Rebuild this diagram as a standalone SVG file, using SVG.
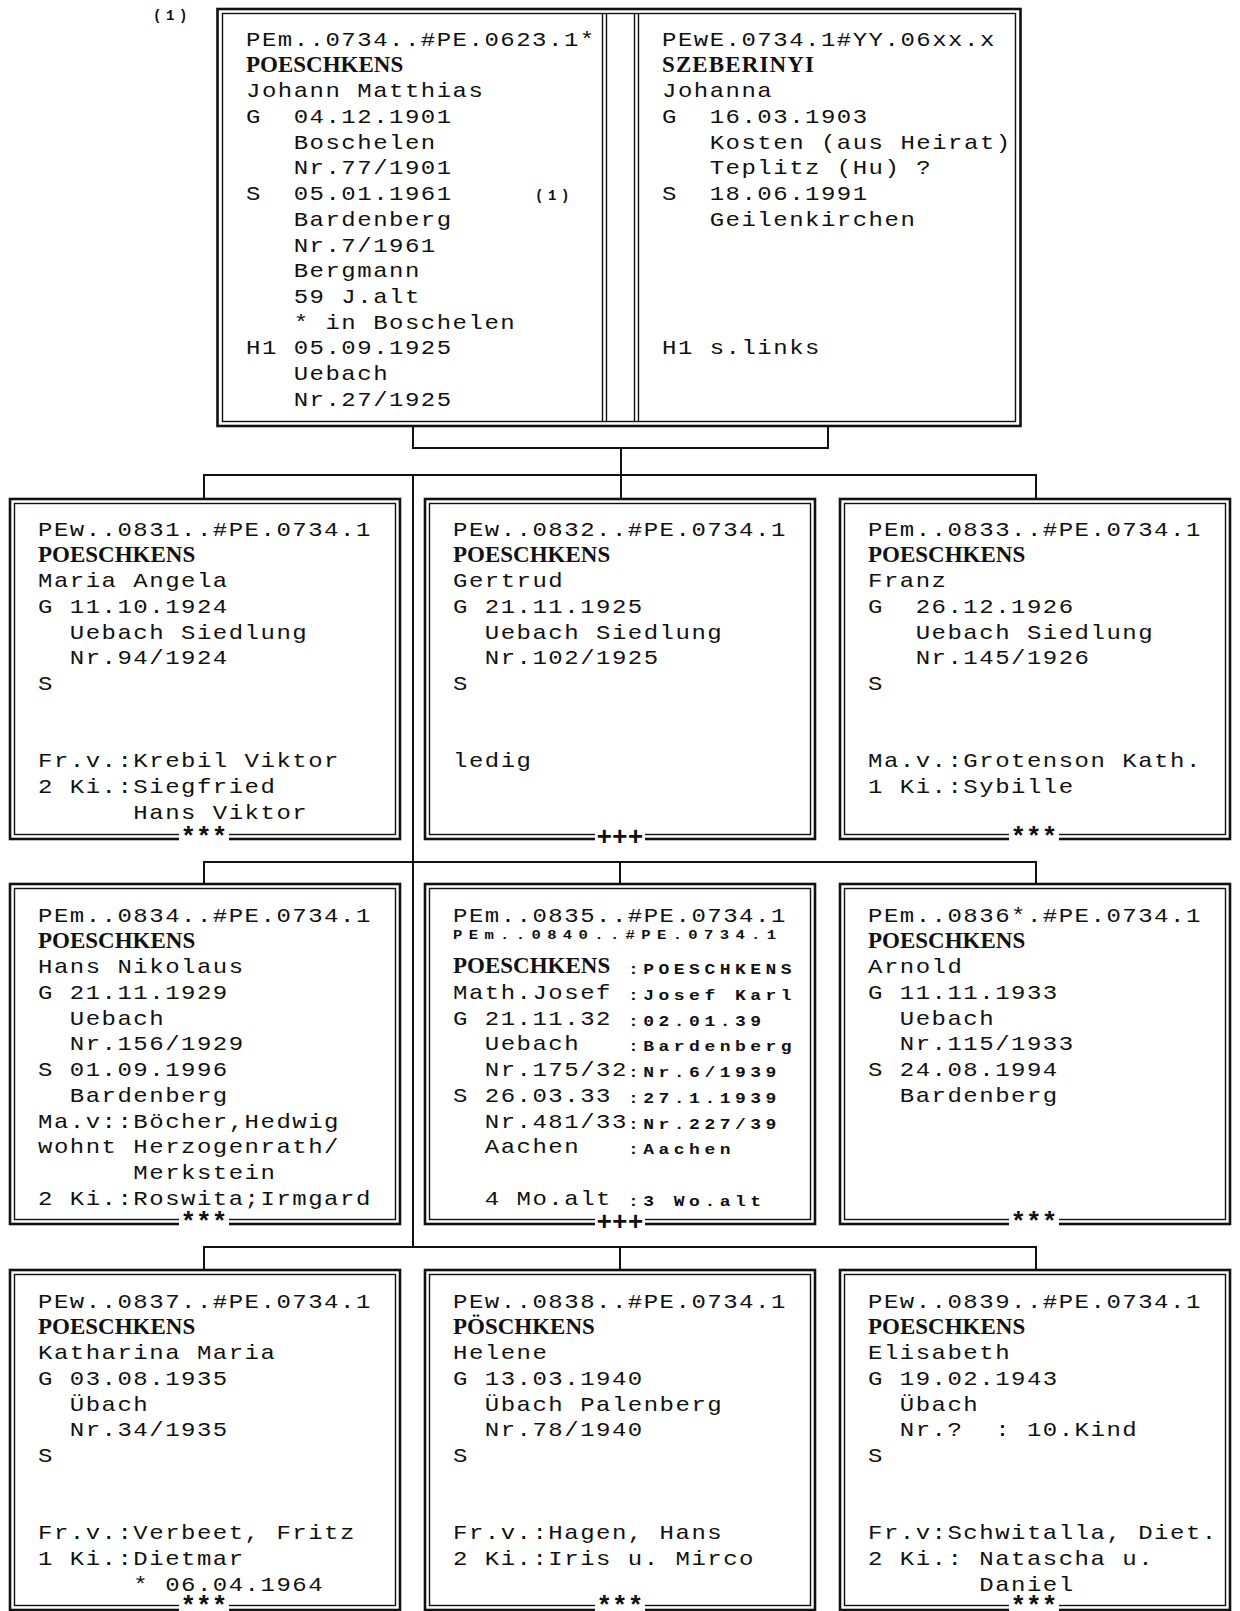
<svg xmlns="http://www.w3.org/2000/svg" xmlns:xlink="http://www.w3.org/1999/xlink" width="1240" height="1611" viewBox="0 0 1240 1611" xml:space="preserve">
<style>
.m{font-family:"Liberation Mono",monospace;font-size:20px;letter-spacing:1.25px;fill:#111;white-space:pre}
.b{font-family:"Liberation Serif",serif;font-weight:bold;font-size:23px;fill:#111}
.s{font-family:"Liberation Mono",monospace;font-weight:bold;font-size:15px;letter-spacing:3.75px;fill:#111;white-space:pre}
.t{font-family:"Liberation Mono",monospace;font-weight:bold;font-size:13px;letter-spacing:5.28px;fill:#111;white-space:pre}
.n{font-family:"Liberation Mono",monospace;font-weight:bold;font-size:14px;letter-spacing:4.6px;fill:#111}
.k{font-family:"Liberation Mono",monospace;font-weight:bold;font-size:26px;fill:#111}
.o{fill:none;stroke:#111;stroke-width:2.6}
.i{fill:none;stroke:#111;stroke-width:1.4}
.c{fill:none;stroke:#111;stroke-width:2}
.w{fill:#fff}
</style>
<defs>
<g id="frame"><rect class="o" x="0" y="0" width="390" height="340"/><rect class="i" x="4.5" y="4.5" width="381" height="331"/></g>
</defs>
<rect x="0" y="0" width="1240" height="1611" fill="#fff"/>
<g id="connectors">
<path class="c" d="M413 425V448H828V425M621 448V499"/>
<path class="c" d="M204 499V475H1036V499M413 475V1247"/>
<path class="c" d="M204 884V862H1036V884M620 862V884"/>
<path class="c" d="M204 1270V1247H1036V1270M620 1247V1270"/>
</g>
<g id="parents">
<rect class="o" x="217.5" y="9" width="803" height="417"/>
<rect class="i" x="222.5" y="13.5" width="793" height="408"/>
<path class="i" d="M602.5 13.5V421.5M606.5 13.5V421.5M634.5 13.5V421.5M638.5 13.5V421.5"/>
<text class="n" x="153" y="20">(1)</text>
<g id="p0734">
<text class="b" x="246" y="71.7">POESCHKENS</text>
<text class="n" x="535" y="200">(1)</text>
<g transform="matrix(1.2 0 0 1 246 0)">
<text class="m" x="0" y="46">PEm..0734..#PE.0623.1*</text>
<text class="m" x="0" y="97.4">Johann Matthias</text>
<text class="m" x="0" y="123.1">G  04.12.1901</text>
<text class="m" x="0" y="148.8">   Boschelen</text>
<text class="m" x="0" y="174.5">   Nr.77/1901</text>
<text class="m" x="0" y="200.2">S  05.01.1961</text>
<text class="m" x="0" y="225.9">   Bardenberg</text>
<text class="m" x="0" y="251.6">   Nr.7/1961</text>
<text class="m" x="0" y="277.3">   Bergmann</text>
<text class="m" x="0" y="303">   59 J.alt</text>
<text class="m" x="0" y="328.7">   * in Boschelen</text>
<text class="m" x="0" y="354.4">H1 05.09.1925</text>
<text class="m" x="0" y="380.1">   Uebach</text>
<text class="m" x="0" y="405.8">   Nr.27/1925</text>
</g>
</g>
<g id="p0734w">
<text class="b" x="662" y="71.7" textLength="152">SZEBERINYI</text>
<g transform="matrix(1.2 0 0 1 662 0)">
<text class="m" x="0" y="46">PEwE.0734.1#YY.06xx.x</text>
<text class="m" x="0" y="97.4">Johanna</text>
<text class="m" x="0" y="123.1">G  16.03.1903</text>
<text class="m" x="0" y="148.8">   Kosten (aus Heirat)</text>
<text class="m" x="0" y="174.5">   Teplitz (Hu) ?</text>
<text class="m" x="0" y="200.2">S  18.06.1991</text>
<text class="m" x="0" y="225.9">   Geilenkirchen</text>
<text class="m" x="0" y="354.4">H1 s.links</text>
</g>
</g>
</g>
<g id="n0831">
<use xlink:href="#frame" x="10" y="499"/>
<text class="b" x="38" y="561.7">POESCHKENS</text>
<g transform="matrix(1.2 0 0 1 38 0)">
<text class="m" x="0" y="536">PEw..0831..#PE.0734.1</text>
<text class="m" x="0" y="587.4">Maria Angela</text>
<text class="m" x="0" y="613.1">G 11.10.1924</text>
<text class="m" x="0" y="638.8">  Uebach Siedlung</text>
<text class="m" x="0" y="664.5">  Nr.94/1924</text>
<text class="m" x="0" y="690.2">S</text>
<text class="m" x="0" y="767.3">Fr.v.:Krebil Viktor</text>
<text class="m" x="0" y="793">2 Ki.:Siegfried</text>
<text class="m" x="0" y="818.7">      Hans Viktor</text>
</g>
<rect class="w" x="179" y="832" width="50" height="11"/>
<text class="k" x="180.5" y="845">***</text>
</g>
<g id="n0832">
<use xlink:href="#frame" x="425" y="499"/>
<text class="b" x="453" y="561.7">POESCHKENS</text>
<g transform="matrix(1.2 0 0 1 453 0)">
<text class="m" x="0" y="536">PEw..0832..#PE.0734.1</text>
<text class="m" x="0" y="587.4">Gertrud</text>
<text class="m" x="0" y="613.1">G 21.11.1925</text>
<text class="m" x="0" y="638.8">  Uebach Siedlung</text>
<text class="m" x="0" y="664.5">  Nr.102/1925</text>
<text class="m" x="0" y="690.2">S</text>
<text class="m" x="0" y="767.3">ledig</text>
</g>
<rect class="w" x="595" y="832" width="50" height="11"/>
<text class="k" x="596.5" y="845">+++</text>
</g>
<g id="n0833">
<use xlink:href="#frame" x="840" y="499"/>
<text class="b" x="868" y="561.7">POESCHKENS</text>
<g transform="matrix(1.2 0 0 1 868 0)">
<text class="m" x="0" y="536">PEm..0833..#PE.0734.1</text>
<text class="m" x="0" y="587.4">Franz</text>
<text class="m" x="0" y="613.1">G  26.12.1926</text>
<text class="m" x="0" y="638.8">   Uebach Siedlung</text>
<text class="m" x="0" y="664.5">   Nr.145/1926</text>
<text class="m" x="0" y="690.2">S</text>
<text class="m" x="0" y="767.3">Ma.v.:Grotenson Kath.</text>
<text class="m" x="0" y="793">1 Ki.:Sybille</text>
</g>
<rect class="w" x="1009" y="832" width="50" height="11"/>
<text class="k" x="1010.5" y="845">***</text>
</g>
<g id="n0834">
<use xlink:href="#frame" x="10" y="884"/>
<text class="b" x="38" y="947.7">POESCHKENS</text>
<g transform="matrix(1.2 0 0 1 38 0)">
<text class="m" x="0" y="922">PEm..0834..#PE.0734.1</text>
<text class="m" x="0" y="973.4">Hans Nikolaus</text>
<text class="m" x="0" y="999.1">G 21.11.1929</text>
<text class="m" x="0" y="1024.8">  Uebach</text>
<text class="m" x="0" y="1050.5">  Nr.156/1929</text>
<text class="m" x="0" y="1076.2">S 01.09.1996</text>
<text class="m" x="0" y="1101.9">  Bardenberg</text>
<text class="m" x="0" y="1127.6">Ma.v::Böcher,Hedwig</text>
<text class="m" x="0" y="1153.3">wohnt Herzogenrath/</text>
<text class="m" x="0" y="1179">      Merkstein</text>
<text class="m" x="0" y="1204.7">2 Ki.:Roswita;Irmgard</text>
</g>
<rect class="w" x="179" y="1217" width="50" height="11"/>
<text class="k" x="180.5" y="1230">***</text>
</g>
<g id="n0835">
<use xlink:href="#frame" x="425" y="884"/>
<text class="b" x="453" y="973.4">POESCHKENS</text>
<g transform="matrix(1.2 0 0 1 453 0)">
<text class="m" x="0" y="922">PEm..0835..#PE.0734.1</text>
<text class="t" x="0" y="939">PEm..0840..#PE.0734.1</text>
<text class="m" x="0" y="999.1">Math.Josef</text>
<text class="m" x="0" y="1024.8">G 21.11.32</text>
<text class="m" x="0" y="1050.5">  Uebach</text>
<text class="m" x="0" y="1076.2">  Nr.175/32</text>
<text class="m" x="0" y="1101.9">S 26.03.33</text>
<text class="m" x="0" y="1127.6">  Nr.481/33</text>
<text class="m" x="0" y="1153.3">  Aachen</text>
<text class="m" x="0" y="1204.7">  4 Mo.alt</text>
<text class="s" x="145.8" y="974.4">:POESCHKENS</text>
<text class="s" x="145.8" y="1000.1">:Josef Karl</text>
<text class="s" x="145.8" y="1025.8">:02.01.39</text>
<text class="s" x="145.8" y="1051.5">:Bardenberg</text>
<text class="s" x="145.8" y="1077.2">:Nr.6/1939</text>
<text class="s" x="145.8" y="1102.9">:27.1.1939</text>
<text class="s" x="145.8" y="1128.6">:Nr.227/39</text>
<text class="s" x="145.8" y="1154.3">:Aachen</text>
<text class="s" x="145.8" y="1205.7">:3 Wo.alt</text>
</g>
<rect class="w" x="595" y="1217" width="50" height="11"/>
<text class="k" x="596.5" y="1230">+++</text>
</g>
<g id="n0836">
<use xlink:href="#frame" x="840" y="884"/>
<text class="b" x="868" y="947.7">POESCHKENS</text>
<g transform="matrix(1.2 0 0 1 868 0)">
<text class="m" x="0" y="922">PEm..0836*.#PE.0734.1</text>
<text class="m" x="0" y="973.4">Arnold</text>
<text class="m" x="0" y="999.1">G 11.11.1933</text>
<text class="m" x="0" y="1024.8">  Uebach</text>
<text class="m" x="0" y="1050.5">  Nr.115/1933</text>
<text class="m" x="0" y="1076.2">S 24.08.1994</text>
<text class="m" x="0" y="1101.9">  Bardenberg</text>
</g>
<rect class="w" x="1009" y="1217" width="50" height="11"/>
<text class="k" x="1010.5" y="1230">***</text>
</g>
<g id="n0837">
<use xlink:href="#frame" x="10" y="1270"/>
<text class="b" x="38" y="1333.7">POESCHKENS</text>
<g transform="matrix(1.2 0 0 1 38 0)">
<text class="m" x="0" y="1308">PEw..0837..#PE.0734.1</text>
<text class="m" x="0" y="1359.4">Katharina Maria</text>
<text class="m" x="0" y="1385.1">G 03.08.1935</text>
<text class="m" x="0" y="1410.8">  Übach</text>
<text class="m" x="0" y="1436.5">  Nr.34/1935</text>
<text class="m" x="0" y="1462.2">S</text>
<text class="m" x="0" y="1539.3">Fr.v.:Verbeet, Fritz</text>
<text class="m" x="0" y="1565">1 Ki.:Dietmar</text>
<text class="m" x="0" y="1590.7">      * 06.04.1964</text>
</g>
<rect class="w" x="179" y="1602" width="50" height="11"/>
<text class="k" x="180.5" y="1614">***</text>
</g>
<g id="n0838">
<use xlink:href="#frame" x="425" y="1270"/>
<text class="b" x="453" y="1333.7">PÖSCHKENS</text>
<g transform="matrix(1.2 0 0 1 453 0)">
<text class="m" x="0" y="1308">PEw..0838..#PE.0734.1</text>
<text class="m" x="0" y="1359.4">Helene</text>
<text class="m" x="0" y="1385.1">G 13.03.1940</text>
<text class="m" x="0" y="1410.8">  Übach Palenberg</text>
<text class="m" x="0" y="1436.5">  Nr.78/1940</text>
<text class="m" x="0" y="1462.2">S</text>
<text class="m" x="0" y="1539.3">Fr.v.:Hagen, Hans</text>
<text class="m" x="0" y="1565">2 Ki.:Iris u. Mirco</text>
</g>
<rect class="w" x="595" y="1602" width="50" height="11"/>
<text class="k" x="596.5" y="1614">***</text>
</g>
<g id="n0839">
<use xlink:href="#frame" x="840" y="1270"/>
<text class="b" x="868" y="1333.7">POESCHKENS</text>
<g transform="matrix(1.2 0 0 1 868 0)">
<text class="m" x="0" y="1308">PEw..0839..#PE.0734.1</text>
<text class="m" x="0" y="1359.4">Elisabeth</text>
<text class="m" x="0" y="1385.1">G 19.02.1943</text>
<text class="m" x="0" y="1410.8">  Übach</text>
<text class="m" x="0" y="1436.5">  Nr.?  : 10.Kind</text>
<text class="m" x="0" y="1462.2">S</text>
<text class="m" x="0" y="1539.3">Fr.v:Schwitalla, Diet.</text>
<text class="m" x="0" y="1565">2 Ki.: Natascha u.</text>
<text class="m" x="0" y="1590.7">       Daniel</text>
</g>
<rect class="w" x="1009" y="1602" width="50" height="11"/>
<text class="k" x="1010.5" y="1614">***</text>
</g>
</svg>
